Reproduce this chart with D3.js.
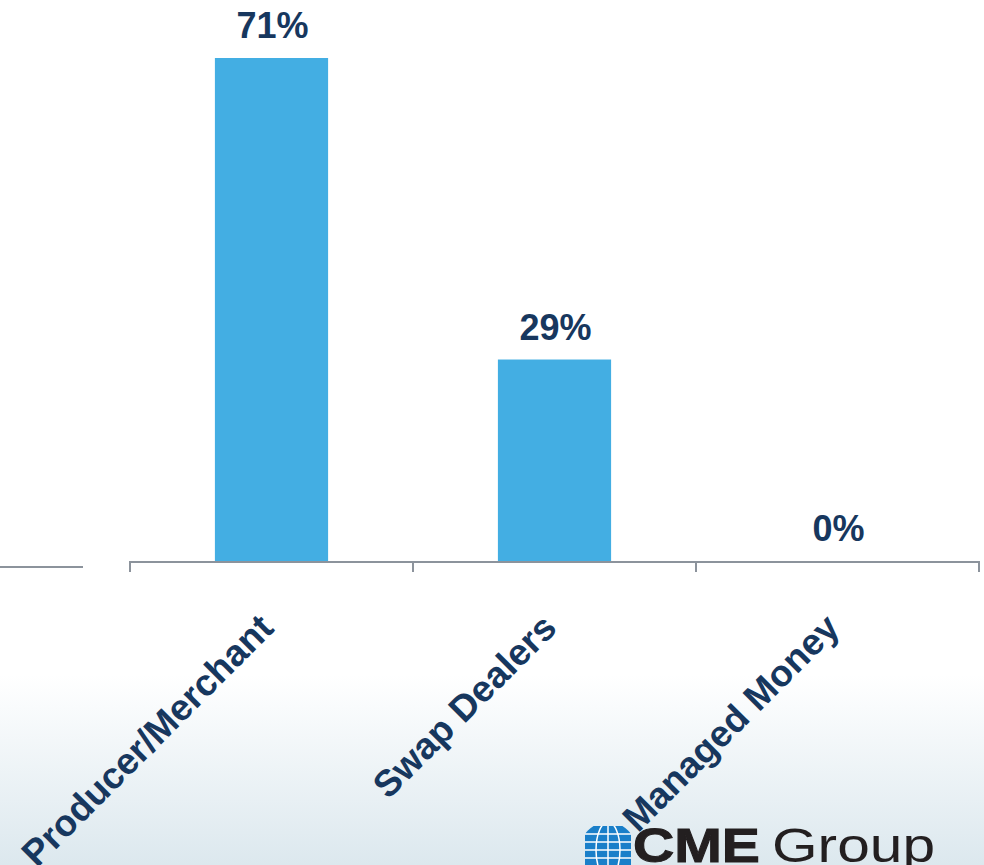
<!DOCTYPE html>
<meta charset="utf-8">
<style>
  body { margin: 0; overflow: hidden; }
  text { font-family: "Liberation Sans", Arial, sans-serif; }
</style>
<body>
</body>

<script src="https://d3js.org/d3.v7.min.js"></script>
<script>

var categories = ["Producer/Merchant", "Swap Dealers", "Managed Money"];
var shares = [71.4, 28.6, 0];

var width = 984, height = 865;
var baseY = 561;

var svg = d3.select("body").append("svg")
  .attr("width", width)
  .attr("height", height);

// background fades to pale blue at the bottom
var defs = svg.append("defs");
var grad = defs.append("linearGradient")
  .attr("id", "bg")
  .attr("x1", 0).attr("y1", 0).attr("x2", 0).attr("y2", 1);
grad.append("stop").attr("offset", "0.78").attr("stop-color", "#ffffff");
grad.append("stop").attr("offset", "1").attr("stop-color", "#dce8ee");

svg.append("rect")
  .attr("width", width)
  .attr("height", height)
  .attr("fill", "url(#bg)");

var x = d3.scaleBand()
  .domain(categories)
  .range([130, 979])
  .paddingInner(0.6)
  .paddingOuter(0.3);

var y = d3.scaleLinear()
  .domain([0, 71.4])
  .range([baseY, 58]);

// bars
svg.selectAll(".bar")
  .data(shares)
  .enter()
  .append("rect")
  .attr("class", "bar")
  .attr("x", function(d, i){ return x(categories[i]); })
  .attr("y", function(d){ return y(d); })
  .attr("width", x.bandwidth())
  .attr("height", function(d){ return baseY - y(d); })
  .attr("fill", "#43aee3");

// value labels
svg.selectAll(".val")
  .data(shares)
  .enter()
  .append("text")
  .attr("class", "val")
  .attr("x", function(d, i){ return x(categories[i]) + x.bandwidth()/2 + 1; })
  .attr("y", function(d){ return y(d) - 20; })
  .attr("text-anchor", "middle")
  .attr("font-size", 36)
  .attr("font-weight", "bold")
  .attr("fill", "#17375e")
  .text(function(d){ return Math.round(d) + "%"; });

// axis line with ticks at band edges
var edges = categories.map(function(c){ return x(c) - x.step()*x.paddingOuter(); });
edges.push(x.range()[1]);

svg.append("line")
  .attr("x1", x.range()[0]).attr("x2", x.range()[1])
  .attr("y1", baseY + 1).attr("y2", baseY + 1)
  .attr("stroke", "#8c939c")
  .attr("stroke-width", 2);

svg.selectAll(".tick")
  .data(edges)
  .enter()
  .append("line")
  .attr("x1", function(d){ return d; })
  .attr("x2", function(d){ return d; })
  .attr("y1", baseY)
  .attr("y2", baseY + 11)
  .attr("stroke", "#8c939c")
  .attr("stroke-width", 2);

// stray line from the neighbouring panel
svg.append("line")
  .attr("x1", 0).attr("x2", 83)
  .attr("y1", 567).attr("y2", 567)
  .attr("stroke", "#8c939c")
  .attr("stroke-width", 2);

// category labels
svg.selectAll(".cat")
  .data(categories)
  .enter()
  .append("text")
  .attr("class", "cat")
  .attr("transform", function(d){
    return "translate(" + (x(d) + x.bandwidth()/2 + 4) + "," + 630 + ") rotate(-45)";
  })
  .attr("text-anchor", "end")
  .attr("font-size", 37)
  .attr("font-weight", "bold")
  .attr("fill", "#17375e")
  .text(function(d){ return d; });

// CME Group logo
var logo = svg.append("g");
defs.append("clipPath").attr("id", "globeClip")
  .append("rect")
  .attr("x", 585).attr("y", 826).attr("width", 46).attr("height", 46);
var globe = logo.append("g").attr("clip-path", "url(#globeClip)");
globe.append("circle")
  .attr("cx", 608).attr("cy", 850).attr("r", 28)
  .attr("fill", "#1a7fc9");
[834, 842, 850, 858].forEach(function(gy){
  globe.append("line")
    .attr("x1", 580).attr("x2", 640).attr("y1", gy).attr("y2", gy)
    .attr("stroke", "#ffffff").attr("stroke-width", 1.5);
});
globe.append("line")
  .attr("x1", 608).attr("x2", 608).attr("y1", 820).attr("y2", 870)
  .attr("stroke", "#ffffff").attr("stroke-width", 1.5);
globe.append("ellipse")
  .attr("cx", 608).attr("cy", 850).attr("rx", 12).attr("ry", 28)
  .attr("fill", "none").attr("stroke", "#ffffff").attr("stroke-width", 1.5);

logo.append("text")
  .attr("x", 633).attr("y", 862)
  .attr("font-size", 48)
  .attr("font-weight", "bold")
  .attr("fill", "#231f20")
  .attr("stroke", "#231f20")
  .attr("stroke-width", 1)
  .attr("textLength", 127)
  .attr("lengthAdjust", "spacingAndGlyphs")
  .text("CME");

logo.append("text")
  .attr("x", 772).attr("y", 862)
  .attr("font-size", 48)
  .attr("fill", "#231f20")
  .attr("textLength", 163)
  .attr("lengthAdjust", "spacingAndGlyphs")
  .text("Group");

</script>
